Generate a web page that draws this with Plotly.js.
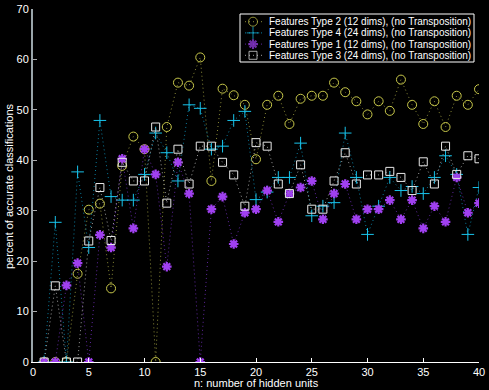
<!DOCTYPE html>
<html>
<head>
<meta charset="utf-8">
<script src="https://cdn.plot.ly/plotly-3.0.1.min.js"></script>
<style>html,body{margin:0;padding:0;background:#000;}#chart{width:489px;height:390px;}</style>
</head>
<body>
<div id="chart"></div>
<script>
const hiddenUnits = [1,2,3,4,5,6,7,8,9,10,11,12,13,14,15,16,17,18,19,20,21,22,23,24,25,26,27,28,29,30,31,32,33,34,35,36,37,38,39,40];
const type2 = [0,0,0,17.5,30.2,31.4,14.6,38.9,44.7,42.2,0,46.6,55.4,54.8,60.4,35.9,54.2,52.9,51.0,40.2,51.0,52.8,47.2,52.2,52.8,52.8,55.4,53.5,51.7,49.1,51.7,49.8,56.0,51.0,47.2,51.7,46.6,52.8,51.0,54.1];
const type4 = [0,27.7,0,37.7,22.7,47.9,32.8,32.1,32.1,37.2,45.4,41.5,35.9,51.0,50.3,42.2,42.8,47.9,49.7,32.2,33.7,36.6,36.6,43.4,29.0,30.9,31.6,45.4,36.6,25.3,30.9,36.6,34.0,34.8,33.4,36.6,40.9,37.2,25.3,34.6];
const type1 = [0,0,15.2,19.6,0,25.2,22.7,40.3,26.5,42.2,37.2,18.9,39.6,33.4,0,30.3,32.8,23.4,29.6,30.3,34.0,27.8,33.4,34.6,35.9,28.3,33.4,35.3,28.3,30.3,30.3,32.1,28.3,32.1,26.5,30.9,27.8,36.6,29.6,31.5];
const type3 = [0,15.1,0,0,24.0,34.6,24.1,39.6,35.9,35.9,46.6,31.5,42.2,35.3,42.8,42.8,39.6,37.1,30.9,43.5,42.8,35.3,33.4,39.1,30.3,30.3,35.9,41.5,35.3,37.1,37.1,37.8,36.6,34.0,39.7,35.3,42.8,37.2,40.9,40.3];
const seriesNames = [
  "Features Type 2 (12 dims), (no Transposition)",
  "Features Type 4 (24 dims), (no Transposition)",
  "Features Type 1 (12 dims), (no Transposition)",
  "Features Type 3 (24 dims), (no Transposition)"
];
const xTitle = "n: number of hidden units";
const yTitle = "percent of accurate classifications";

const styles = [
  {line:"#8c8c38", marker:"#c8c84a", symbol:"circle-open", size:9, lw:1},
  {line:"#0a7ea0", marker:"#18c4ec", symbol:"cross-thin-open", size:9, lw:1},
  {line:"#6028a0", marker:"#a040f0", symbol:"asterisk-open", size:8, lw:2.2},
  {line:"#a0a0a0", marker:"#e8e8e8", symbol:"square-open", size:8, lw:1}
];
const ys = [type2, type4, type1, type3];
const traces = ys.map((y,i)=>({
  x: hiddenUnits, y: y, name: seriesNames[i], type:"scatter", mode:"lines+markers",
  line:{color:styles[i].line, width:1, dash:"1px,3px"},
  marker:{symbol:styles[i].symbol, size:styles[i].size, color:styles[i].marker, line:{color:styles[i].marker, width:styles[i].lw}}
}));

// Legend drawn in a pixel-space overlay axis (x2/y2); plot area spans px 33..479 x 9..362
const PX0 = 33, PX1 = 479, PY0 = 9, PY1 = 362;
const L = {x0:240, x1:474, y0:14, y1:62, rows:[21.7,32.9,44.1,55.3], sx0:245, sx:253, sx1:262, tx:267};
traces.push({x:[L.x0,L.x1,L.x1,L.x0,L.x0], y:[L.y0,L.y0,L.y1,L.y1,L.y0], xaxis:"x2", yaxis:"y2",
  type:"scatter", mode:"lines", fill:"toself", fillcolor:"#000", line:{color:"#fff", width:1}, showlegend:false});
const annotations = [];
styles.forEach((s,i)=>{
  const ry = L.rows[i];
  traces.push({x:[L.sx0,L.sx,L.sx1], y:[ry,ry,ry], xaxis:"x2", yaxis:"y2", type:"scatter", mode:"lines+markers",
    showlegend:false, line:{color:s.line, width:1, dash:"1px,3px"},
    marker:{symbol:s.symbol, size:[0,s.size,0], color:s.marker, line:{color:s.marker, width:s.lw}}});
  annotations.push({xref:"x2", yref:"y2", x:L.tx, y:ry, text:seriesNames[i], showarrow:false, xanchor:"left", yanchor:"middle",
    font:{size:10, color:"#fff"}});
});
const px = v => (v-PX0)/(PX1-PX0);
const py = v => (PY1-v)/(PY1-PY0);
annotations.push({xref:"paper", yref:"paper", x:px(256), y:py(383), text:xTitle, showarrow:false, xanchor:"center", yanchor:"middle", font:{size:11, color:"#fff"}});
annotations.push({xref:"paper", yref:"paper", x:px(9), y:py(186), text:yTitle, showarrow:false, textangle:-90, xanchor:"center", yanchor:"middle", font:{size:11, color:"#fff"}});

const layout = {
  width:489, height:390,
  paper_bgcolor:"#000", plot_bgcolor:"#000",
  margin:{l:33, r:10, t:9, b:28, autoexpand:false},
  font:{family:"Liberation Sans, Arial, sans-serif", color:"#fff", size:11},
  showlegend:false,
  annotations: annotations,
  xaxis:{range:[0,40], tickvals:[0,5,10,15,20,25,30,35,40], ticks:"inside", ticklen:4, tickcolor:"#fff",
    showline:true, linecolor:"#fff", linewidth:1, showgrid:false, zeroline:false,
    tickfont:{size:11, color:"#fff"}},
  yaxis:{range:[0,70], tickvals:[0,10,20,30,40,50,60,70], ticks:"inside", ticklen:4, tickcolor:"#aaa",
    showline:true, linecolor:"#9aa5aa", linewidth:2, showgrid:false, zeroline:false,
    tickfont:{size:11, color:"#fff"}},
  xaxis2:{overlaying:"x", range:[PX0,PX1], visible:false, fixedrange:true},
  yaxis2:{overlaying:"y", range:[PY1,PY0], visible:false, fixedrange:true}
};
Plotly.newPlot("chart", traces, layout, {staticPlot:true});
</script>
</body>
</html>
